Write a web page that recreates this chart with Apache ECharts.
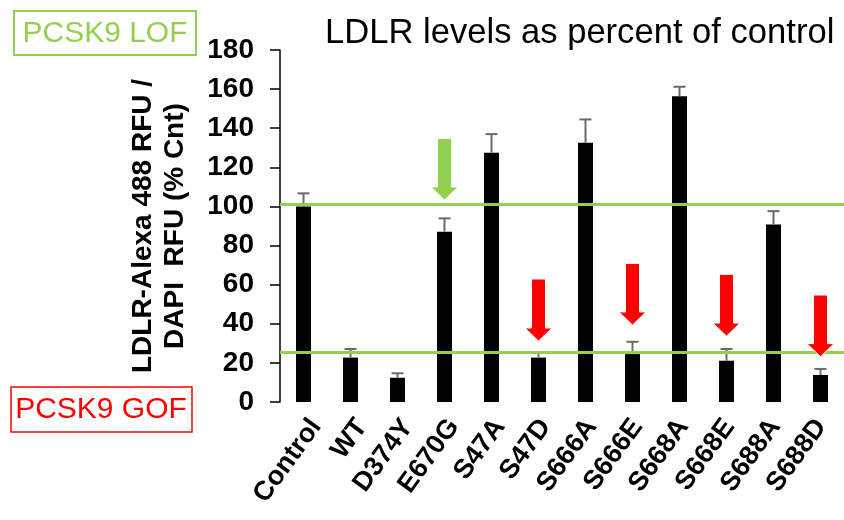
<!DOCTYPE html>
<html>
<head>
<meta charset="utf-8">
<script src="https://cdn.jsdelivr.net/npm/echarts@6/dist/echarts.min.js"></script>
<style>
  html, body { margin: 0; padding: 0; background: #fff; }
  #chart { width: 844px; height: 520px; }
</style>
</head>
<body>
<div id="chart"></div>
<script>
// PCSK9 variants: LDLR surface level as percent of control
const categories = ['Control', 'WT', 'D374Y', 'E670G', 'S47A', 'S47D', 'S666A', 'S666E', 'S668A', 'S668E', 'S688A', 'S688D'];
const levels = [100, 22.7, 12.4, 87.1, 127.5, 22.7, 132.6, 24.5, 156.4, 21.1, 90.8, 13.8];
const errors = [6.7, 4.4, 2.3, 6.8, 9.5, 2.6, 11.9, 6.3, 4.8, 6.0, 6.8, 3.1];

// y axis range and step
const yMin = 0;
const yMax = 180;
const yStep = 20;

// reference levels (loss / gain of function)
const lofLevel = 101;
const gofLevel = 25.5;

// arrows: [category, start value, tip value]
const lofArrows = [['E670G', 134.8, 103.3]];
const gofArrows = [['S47D', 62.9, 31.2], ['S666E', 70.9, 39.4], ['S668E', 65.3, 33.7], ['S688D', 54.7, 23.2]];

const GREEN = '#92d050';
const RED = '#ff0000';
const FONT = '"Liberation Sans", Arial, sans-serif';

const chart = echarts.init(document.getElementById('chart'), null, { renderer: 'canvas' });

function renderArrow(color) {
  return function (params, api) {
    const idx = api.value(0);
    const p0 = api.coord([idx, api.value(1)]);
    const p1 = api.coord([idx, api.value(2)]);
    const x = p0[0];
    const hw = 7, headHw = 13.5, headLen = 13;
    const yh = p1[1] - headLen;
    return {
      type: 'polygon',
      shape: {
        points: [
          [x - hw, p0[1]], [x + hw, p0[1]], [x + hw, yh], [x + headHw, yh],
          [x, p1[1]], [x - headHw, yh], [x - hw, yh]
        ]
      },
      style: { fill: color, stroke: '#fff', lineWidth: 1 }
    };
  };
}

const errorData = categories.map((c, i) => [i, levels[i], levels[i] + errors[i]]);

// plot area; the category labels sit on a twin axis nudged to the right
const plotGrid = { left: 280, top: 50, width: 575, height: 352 };
const labelGrid = { left: 293, top: 50, width: 575, height: 352 };

chart.setOption({
  animation: false,
  backgroundColor: '#fff',
  title: {
    text: 'LDLR levels as percent of control',
    left: 320,
    top: 11,
    textStyle: { fontFamily: FONT, fontSize: 34.6, fontWeight: 'normal', color: '#000' }
  },
  grid: [plotGrid, labelGrid],
  xAxis: [
    {
      type: 'category',
      gridIndex: 0,
      data: categories,
      axisLine: { show: false },
      axisTick: { show: false },
      axisLabel: { show: false }
    },
    {
      type: 'category',
      gridIndex: 1,
      data: categories,
      axisLine: { show: false },
      axisTick: { show: false },
      axisLabel: {
        interval: 0,
        rotate: 54,
        margin: 20,
        color: '#000',
        fontFamily: FONT,
        fontWeight: 'bold',
        fontSize: 27
      }
    }
  ],
  yAxis: [
    {
      type: 'value',
      gridIndex: 0,
      min: yMin,
      max: yMax,
      interval: yStep,
      name: 'LDLR-Alexa 488 RFU /\nDAPI  RFU (% Cnt)',
      nameLocation: 'middle',
      nameRotate: 90,
      nameGap: 89,
      nameTextStyle: { fontFamily: FONT, fontSize: 28, fontWeight: 'bold', color: '#000', lineHeight: 32 },
      axisLine: { show: true, lineStyle: { color: '#000', width: 1.5 } },
      axisTick: { show: true, length: 10, lineStyle: { color: '#000', width: 1.5 } },
      axisLabel: { margin: 26, color: '#000', fontFamily: FONT, fontWeight: 'bold', fontSize: 28 },
      splitLine: { show: false }
    },
    {
      type: 'value',
      gridIndex: 1,
      min: yMin,
      max: yMax,
      show: false
    }
  ],
  graphic: [
    { type: 'rect', shape: { x: 14, y: 11, width: 182, height: 44 }, style: { fill: 'none', stroke: GREEN, lineWidth: 2 } },
    { type: 'text', x: 105, y: 34, style: { text: 'PCSK9 LOF', fill: GREEN, fontFamily: FONT, fontSize: 30, align: 'center', verticalAlign: 'middle' } },
    { type: 'rect', shape: { x: 11, y: 387, width: 181, height: 45 }, style: { fill: 'none', stroke: RED, lineWidth: 1.5 } },
    { type: 'text', x: 101, y: 410, style: { text: 'PCSK9 GOF', fill: RED, fontFamily: FONT, fontSize: 30, align: 'center', verticalAlign: 'middle' } }
  ],
  series: [
    {
      type: 'bar',
      xAxisIndex: 0,
      yAxisIndex: 0,
      data: levels,
      barWidth: 15,
      itemStyle: { color: '#000' },
      z: 2,
      markLine: {
        silent: true,
        symbol: 'none',
        label: { show: false },
        lineStyle: { color: GREEN, width: 3, type: 'solid' },
        data: [{ yAxis: lofLevel }, { yAxis: gofLevel }],
        z: 5
      }
    },
    {
      type: 'custom',
      xAxisIndex: 0,
      yAxisIndex: 0,
      data: errorData,
      encode: { x: 0, y: [1, 2] },
      z: 3,
      renderItem: function (params, api) {
        const base = api.coord([api.value(0), api.value(1)]);
        const top = api.coord([api.value(0), api.value(2)]);
        const x = base[0];
        const style = { stroke: '#6b6b6b', lineWidth: 2 };
        return {
          type: 'group',
          children: [
            { type: 'line', shape: { x1: x, y1: base[1], x2: x, y2: top[1] }, style: style },
            { type: 'line', shape: { x1: x - 6, y1: top[1], x2: x + 6, y2: top[1] }, style: style }
          ]
        };
      }
    },
    {
      type: 'custom',
      xAxisIndex: 0,
      yAxisIndex: 0,
      data: lofArrows,
      encode: { x: 0, y: [1, 2] },
      z: 6,
      renderItem: renderArrow(GREEN)
    },
    {
      type: 'custom',
      xAxisIndex: 0,
      yAxisIndex: 0,
      data: gofArrows,
      encode: { x: 0, y: [1, 2] },
      z: 6,
      renderItem: renderArrow(RED)
    }
  ]
});
</script>
</body>
</html>
